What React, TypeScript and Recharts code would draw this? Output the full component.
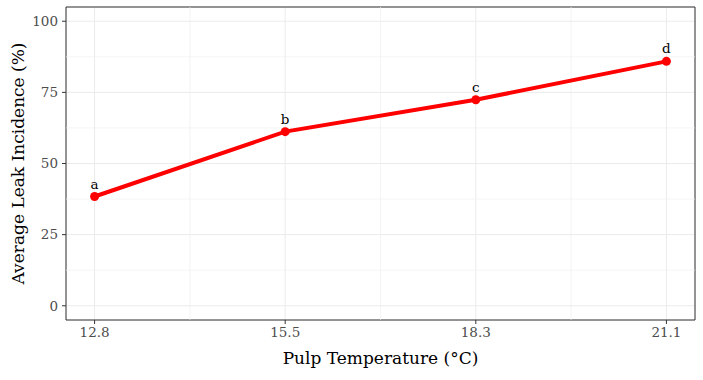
import React from "react";
import {
  LineChart,
  Line,
  XAxis,
  YAxis,
  CartesianGrid,
  ReferenceLine,
  ReferenceArea,
  LabelList,
} from "recharts";

const temps = ["12.8", "15.5", "18.3", "21.1"];
const leakIncidence = [38.4, 61.2, 72.4, 85.9];
const groups = ["a", "b", "c", "d"];
const yTicks = [0, 25, 50, 75, 100];
const yMinor = [12.5, 37.5, 62.5, 87.5];
const xTicks = [1, 2, 3, 4];
const xMinor = [1.5, 2.5, 3.5];

const data = temps.map((t, i) => ({
  pos: i + 1,
  temp: t,
  leak: leakIncidence[i],
  group: groups[i],
}));

const FONT = "DejaVu Serif";

export default function App() {
  return (
    <div style={{ position: "absolute", left: 0, top: 0, background: "#fff" }}>
      <LineChart
        width={703}
        height={380}
        data={data}
        margin={{ top: 7, right: 8, bottom: 0, left: 0 }}
      >
        <CartesianGrid stroke="#EBEBEB" strokeWidth={1} />
        {yMinor.map((v) => (
          <ReferenceLine key={"ym" + v} y={v} stroke="#EFEFEF" strokeWidth={0.7} />
        ))}
        {xMinor.map((v) => (
          <ReferenceLine key={"xm" + v} x={v} stroke="#EFEFEF" strokeWidth={0.7} />
        ))}
        <XAxis
          dataKey="pos"
          type="number"
          domain={[0.85, 4.15]}
          ticks={xTicks}
          tickFormatter={(v: number) => temps[v - 1]}
          height={60}
          axisLine={false}
          tickLine={{ stroke: "#333333" }}
          tickSize={4}
          tickMargin={3}
          tick={{ fontSize: 13.5, fill: "#4D4D4D", fontFamily: FONT }}
          label={{
            value: "Pulp Temperature (°C)",
            position: "insideBottom",
            offset: 16,
            style: { fontSize: 17, fill: "#000", fontFamily: FONT },
          }}
        />
        <YAxis
          type="number"
          domain={[-5, 105]}
          ticks={yTicks}
          width={66}
          axisLine={false}
          tickLine={{ stroke: "#333333" }}
          tickSize={4}
          tickMargin={4}
          tick={{ fontSize: 13.5, fill: "#4D4D4D", fontFamily: FONT }}
          label={{
            value: "Average Leak Incidence (%)",
            angle: -90,
            position: "insideLeft",
            offset: 18,
            style: { fontSize: 17, fill: "#000", fontFamily: FONT, textAnchor: "middle" },
          }}
        />
        <ReferenceArea
          x1={0.85}
          x2={4.15}
          y1={-5}
          y2={105}
          fill="none"
          stroke="#333333"
          strokeWidth={1}
        />
        <Line
          dataKey="leak"
          stroke="#FF0000"
          strokeWidth={4}
          dot={{ r: 4.5, fill: "#FF0000", stroke: "#FF0000", strokeWidth: 0 }}
          isAnimationActive={false}
        >
          <LabelList
            dataKey="group"
            position="top"
            offset={8}
            style={{ fontSize: 13.5, fill: "#000", fontFamily: FONT }}
          />
        </Line>
      </LineChart>
    </div>
  );
}
